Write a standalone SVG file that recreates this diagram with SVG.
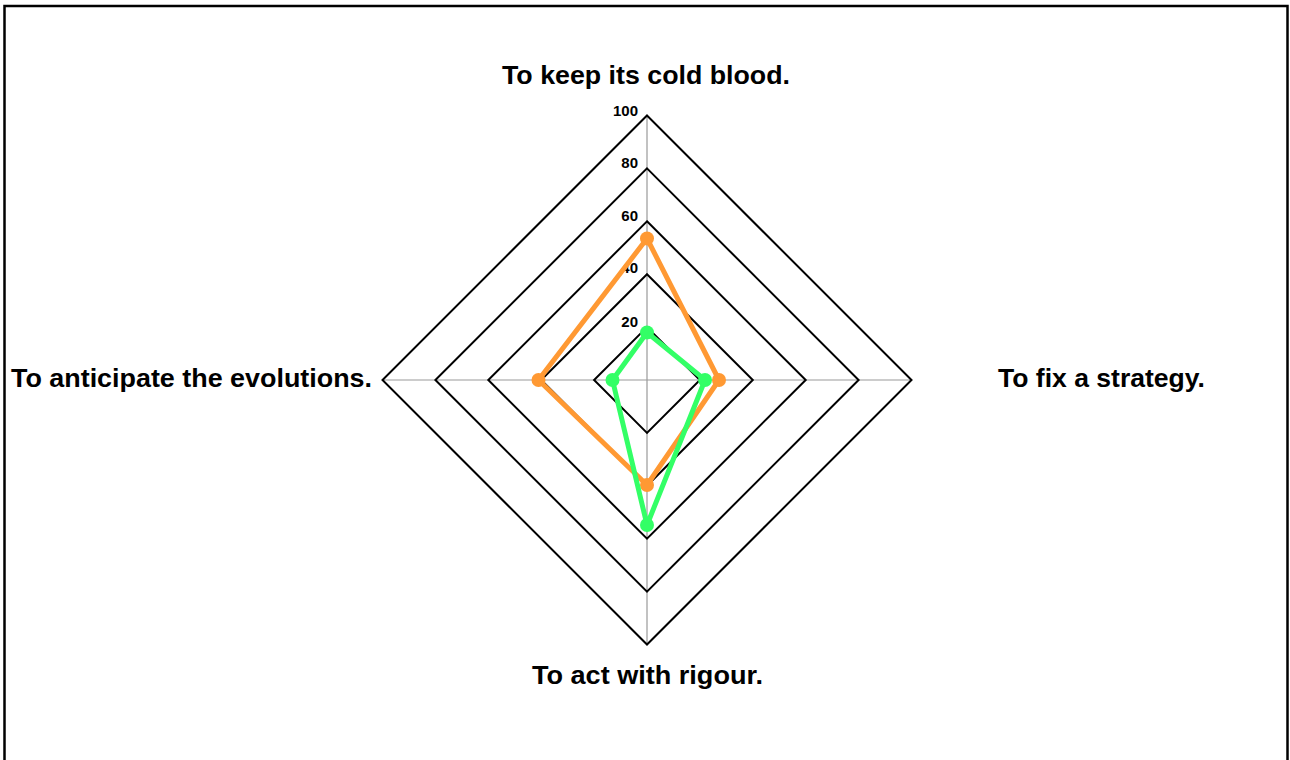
<svg xmlns="http://www.w3.org/2000/svg" width="1290" height="760" viewBox="0 0 1290 760">
<style>
.lbl{font-family:"Liberation Sans",Arial,sans-serif;font-weight:bold;font-size:26px;fill:#000}
.tick{font-family:"Liberation Sans",Arial,sans-serif;font-weight:bold;font-size:15px;fill:#000;text-anchor:end}
.ring{fill:none;stroke:#000;stroke-width:2}
.axis{stroke:#999;stroke-width:1.2}
.s1{fill:none;stroke:#FF9933;stroke-width:5;stroke-linejoin:round}
.s2{fill:none;stroke:#33FF66;stroke-width:5;stroke-linejoin:round}
.d1{fill:#FF9933}
.d2{fill:#33FF66}
</style>
<rect x="0" y="0" width="1290" height="760" fill="#fff"/>
<rect x="4.5" y="6" width="1283" height="770" fill="none" stroke="#000" stroke-width="2.5"/>
<g id="grid">
<line class="axis" x1="647" y1="116" x2="647" y2="645"/>
<line class="axis" x1="383" y1="380" x2="912" y2="380"/>
<polygon class="ring" points="647,327.1 699.9,380 647,432.9 594.1,380"/>
<polygon class="ring" points="647,274.2 752.8,380 647,485.8 541.2,380"/>
<polygon class="ring" points="647,221.3 805.7,380 647,538.7 488.3,380"/>
<polygon class="ring" points="647,168.4 858.6,380 647,591.6 435.4,380"/>
<polygon class="ring" points="647,115.5 911.5,380 647,644.5 382.5,380"/>
<text class="tick" x="638" y="116">100</text>
<text class="tick" x="638" y="168">80</text>
<text class="tick" x="638" y="221">60</text>
<text class="tick" x="638" y="273">40</text>
<text class="tick" x="638" y="327">20</text>
</g>
<g id="series-orange">
<polygon class="s1" points="647,238.5 719,380 647,485 538.5,380"/>
<circle class="d1" cx="647" cy="238.5" r="7"/>
<circle class="d1" cx="719" cy="380" r="7"/>
<circle class="d1" cx="647" cy="485" r="7"/>
<circle class="d1" cx="538.5" cy="380" r="7"/>
</g>
<g id="series-green">
<polygon class="s2" points="647,332.5 705,380 647,525 612.5,380"/>
<circle class="d2" cx="647" cy="332.5" r="7"/>
<circle class="d2" cx="705" cy="380" r="7"/>
<circle class="d2" cx="647" cy="525" r="7"/>
<circle class="d2" cx="612.5" cy="380" r="7"/>
</g>
<g id="labels">
<text class="lbl" x="502" y="84" textLength="288" lengthAdjust="spacingAndGlyphs">To keep its cold blood.</text>
<text class="lbl" x="998" y="387" textLength="207" lengthAdjust="spacingAndGlyphs">To fix a strategy.</text>
<text class="lbl" x="11" y="387" textLength="361" lengthAdjust="spacingAndGlyphs">To anticipate the evolutions.</text>
<text class="lbl" x="532" y="684" textLength="231" lengthAdjust="spacingAndGlyphs">To act with rigour.</text>
</g>
</svg>
